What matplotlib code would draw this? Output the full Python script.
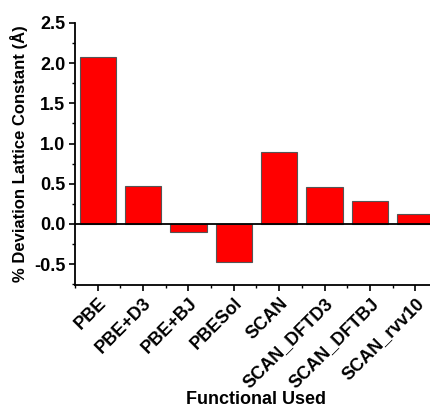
import matplotlib
matplotlib.use("Agg")
import matplotlib.pyplot as plt
from matplotlib.ticker import MultipleLocator, FixedLocator

categories = ["PBE", "PBE+D3", "PBE+BJ", "PBESol", "SCAN", "SCAN_DFTD3", "SCAN_DFTBJ", "SCAN_rvv10"]
values = [2.08, 0.47, -0.10, -0.48, 0.90, 0.46, 0.28, 0.12]
yticks = [-0.5, 0.0, 0.5, 1.0, 1.5, 2.0, 2.5]

plt.rcParams['font.family'] = ['Liberation Sans', 'DejaVu Sans']
plt.rcParams['font.weight'] = 'bold'

fig = plt.figure(figsize=(4.31, 4.08), dpi=100)
ax = fig.add_axes([75/431, 1-285/408, (438-75)/431, (285-23)/408])

x = list(range(1, len(categories) + 1))
ax.bar(x, values, width=0.8, color='#ff0000', edgecolor='#555555', linewidth=0.8, zorder=2)
ax.axhline(0, color='black', linewidth=1.3, zorder=3)

ax.set_xlim(0.5, 8.5)
ax.set_ylim(-0.76, 2.5)
ax.spines['top'].set_visible(False)
ax.spines['right'].set_visible(False)
ax.spines['left'].set_linewidth(1.3)
ax.spines['bottom'].set_linewidth(1.3)

ax.set_yticks(yticks)
ax.set_yticklabels([f"{v:.1f}" for v in yticks], fontsize=13, fontweight='bold')
ax.yaxis.set_minor_locator(MultipleLocator(0.25))
ax.set_xticks(x)
ax.set_xticklabels(categories, rotation=45, ha='right', rotation_mode='anchor', fontsize=13, fontweight='bold')
ax.xaxis.set_minor_locator(FixedLocator([i + 0.5 for i in range(0, 9)]))

ax.tick_params(axis='both', which='major', direction='out', length=4, width=1.2, pad=3)
ax.tick_params(axis='both', which='minor', direction='out', length=2, width=1.0)

ax.set_xlabel("Functional Used", fontsize=13, fontweight='bold', labelpad=0)
ax.set_ylabel("% Deviation Lattice Constant (Å)", fontsize=12, fontweight='bold', labelpad=4)

fig.savefig("out.png", dpi=100)
